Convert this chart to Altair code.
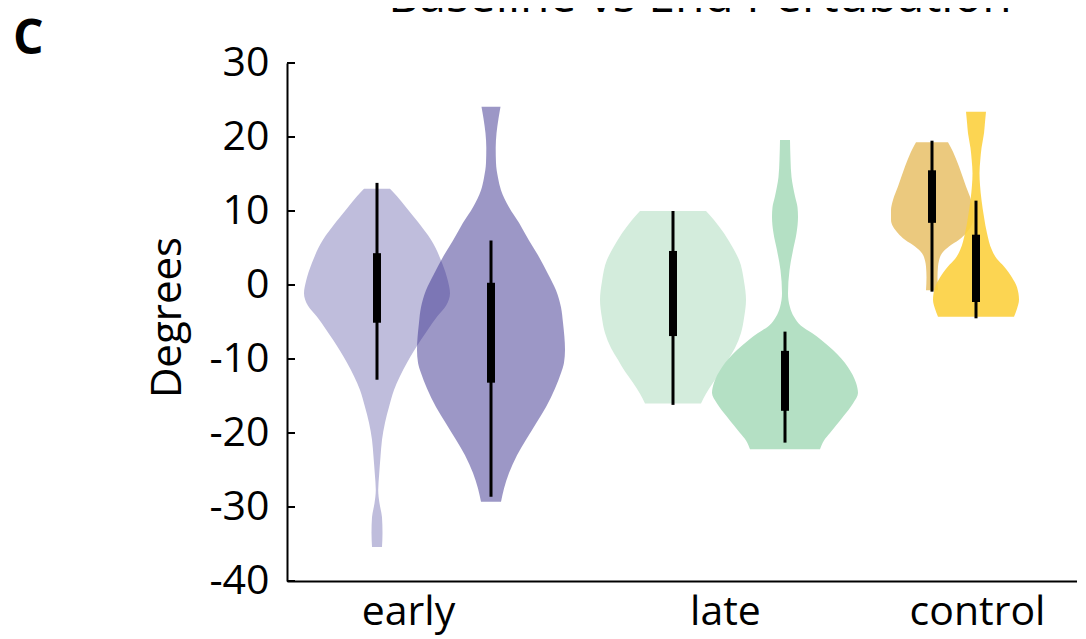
import altair as alt
import pandas as pd

# ---- data ----
groups = ["early", "late", "control"]
group_pos = [1.21, 4.38, 6.90]

violin_names = ["early baseline", "early end", "late baseline", "late end",
                "control baseline", "control end"]
violin_pos = [0.90, 2.04, 3.86, 4.98, 6.45, 6.89]

v1_y = [13.0, 12.0, 10.5, 8.5, 6.1, 3.0, 0.5, -1.1, -2.8, -4.3, -6.0, -7.4, -10.5,
        -14.2, -16.5, -18.6, -20.9, -23.2, -25.5, -27.7, -29.5, -31.4, -33.5, -35.4]
v1_w = [0.13, 0.20, 0.29, 0.41, 0.54, 0.65, 0.71, 0.73, 0.69, 0.60, 0.51, 0.44, 0.30,
        0.17, 0.12, 0.08, 0.05, 0.035, 0.022, 0.012, 0.025, 0.05, 0.055, 0.05]

v2_y = [24.1, 22.5, 20.5, 18.5, 16.5, 14.5, 12.8, 10.5, 8.4, 6.0, 3.8, 1.5, -0.7,
        -3.0, -5.1, -8.8, -10.5, -11.9, -14.0, -16.5, -18.7, -20.9, -23.0, -25.4,
        -27.5, -29.3]
v2_w = [0.095, 0.075, 0.055, 0.047, 0.05, 0.07, 0.10, 0.18, 0.28, 0.38, 0.48, 0.57,
        0.65, 0.70, 0.72, 0.74, 0.73, 0.70, 0.64, 0.55, 0.45, 0.35, 0.26, 0.18,
        0.13, 0.10]

v3_y = [10.0, 8.8, 7.0, 5.0, 3.4, 0.5, -2.0, -4.5, -6.5, -8.5, -10.1, -11.7, -13.2,
        -14.7, -16.0]
v3_w = [0.33, 0.41, 0.51, 0.60, 0.66, 0.71, 0.73, 0.71, 0.68, 0.62, 0.55, 0.48, 0.40,
        0.33, 0.28]

v4_y = [19.6, 17.0, 14.6, 12.0, 10.5, 9.2, 7.0, 4.7, 2.0, -1.1, -3.0, -4.3, -5.5,
        -6.5, -7.4, -8.8, -11.1, -13.2, -14.6, -16.0, -17.8, -19.0, -20.0, -21.0,
        -22.2]
v4_w = [0.05, 0.055, 0.065, 0.10, 0.125, 0.13, 0.115, 0.08, 0.045, 0.03, 0.05, 0.09,
        0.16, 0.27, 0.36, 0.48, 0.63, 0.71, 0.73, 0.68, 0.58, 0.51, 0.45, 0.39, 0.35]

v5_y = [19.3, 18.0, 16.0, 13.3, 11.5, 10.1, 8.8, 7.9, 7.0, 6.1, 5.2, 4.3, 3.3, 2.5,
        1.0, -0.7]
v5_w = [0.16, 0.21, 0.27, 0.34, 0.39, 0.41, 0.41, 0.39, 0.34, 0.27, 0.17, 0.10, 0.07,
        0.06, 0.055, 0.06]

v6_y = [23.4, 22.0, 20.5, 18.5, 16.9, 15.1, 13.5, 11.5, 9.2, 7.0, 4.7, 3.5, 2.5, 1.0,
        -0.3, -2.0, -3.2, -4.3]
v6_w = [0.10, 0.09, 0.08, 0.055, 0.043, 0.035, 0.04, 0.055, 0.08, 0.11, 0.16, 0.21,
        0.28, 0.36, 0.41, 0.43, 0.41, 0.38]

whisk_hi = [13.8, 6.0, 10.0, -6.3, 19.5, 11.4]
whisk_lo = [-12.8, -28.6, -16.2, -21.3, -0.9, -4.5]
box_hi = [4.3, 0.3, 4.6, -8.9, 15.5, 6.8]
box_lo = [-5.1, -13.2, -6.9, -17.0, 8.4, -2.3]

y_ticks = [-40, -30, -20, -10, 0, 10, 20, 30]

title_text = "Baseline vs End Pertubation"
panel_letter = "C"

# ---- styling ----
colors = ["#bfbddc", "#392f8d", "#d3ecdc", "#b4e0c4", "#ebc97e", "#fcd03f"]
opacities = [1.0, 0.5, 1.0, 1.0, 1.0, 0.9]
FONT = "Open Sans"

profiles = [(v1_y, v1_w), (v2_y, v2_w), (v3_y, v3_w), (v4_y, v4_w),
            (v5_y, v5_w), (v6_y, v6_w)]

x_scale = alt.Scale(domain=[0, 7.9], nice=False, zero=False)
y_scale = alt.Scale(domain=[-40, 30], nice=False, zero=False)

label_expr = "'" + groups[-1] + "'"
for p, g in reversed(list(zip(group_pos[:-1], groups[:-1]))):
    label_expr = f"abs(datum.value - {p}) < 0.01 ? '{g}' : " + label_expr

x_axis = alt.Axis(values=group_pos, labelExpr=label_expr, ticks=False, grid=False,
                  domainColor="black", domainWidth=2, labelFontSize=41,
                  labelColor="black", labelFont=FONT, labelPadding=11, title=None,
                  labelFlush=False, labelOverlap=False)
y_axis = alt.Axis(values=y_ticks, ticks=False, grid=False, domainColor="black",
                  domainWidth=2, labelFontSize=41, labelColor="black", labelFont=FONT,
                  labelPadding=18, labelExpr="'' + datum.value",
                  title="Degrees", titleFontSize=42,
                  titleFont=FONT, titleFontWeight="normal", titleColor="black",
                  titleAngle=270, titleAlign="center", titleBaseline="middle",
                  titleX=-120, titleY=254)

# long-form violin outlines
rows = []
for i, (ys, ws) in enumerate(profiles):
    for yv, wv in sorted(zip(ys, ws)):
        rows.append({"violin": i, "y": yv,
                     "left": violin_pos[i] - wv, "right": violin_pos[i] + wv})
vdf = pd.DataFrame(rows)

layers = []
for i in range(len(profiles)):
    layers.append(
        alt.Chart(vdf).transform_filter(alt.datum.violin == i).mark_area(
            orient="horizontal", interpolate="monotone",
            color=colors[i], opacity=opacities[i]
        ).encode(
            y=alt.Y("y:Q", scale=y_scale, axis=y_axis),
            x=alt.X("left:Q", scale=x_scale, axis=x_axis),
            x2="right:Q",
        )
    )

stats = pd.DataFrame({"name": violin_names, "pos": violin_pos,
                      "wlo": whisk_lo, "whi": whisk_hi,
                      "blo": box_lo, "bhi": box_hi})

whiskers = alt.Chart(stats).mark_rule(color="black", strokeWidth=3).encode(
    x=alt.X("pos:Q", scale=x_scale, axis=x_axis),
    y=alt.Y("wlo:Q", scale=y_scale, axis=y_axis), y2="whi:Q")
boxes = alt.Chart(stats).mark_rule(color="black", strokeWidth=8).encode(
    x=alt.X("pos:Q", scale=x_scale, axis=x_axis),
    y=alt.Y("blo:Q", scale=y_scale, axis=y_axis), y2="bhi:Q")

ticks = alt.Chart(pd.DataFrame({"t": y_ticks})).mark_rule(
    color="black", strokeWidth=2).encode(
    y=alt.Y("t:Q", scale=y_scale, axis=y_axis), x=alt.value(0), x2=alt.value(8))

title = alt.Chart(pd.DataFrame({"t": [title_text]})).mark_text(
    fontSize=48, font=FONT, color="black", align="center", baseline="alphabetic"
).encode(text="t:N", x=alt.value(413), y=alt.value(-51))

letter = alt.Chart(pd.DataFrame({"t": [panel_letter]})).mark_text(
    fontSize=48, font=FONT, fontWeight="bold", color="black", align="left",
    baseline="alphabetic"
).encode(text="t:N", x=alt.value(-274), y=alt.value(-9))

chart = alt.layer(*layers, whiskers, boxes, ticks, title, letter).properties(
    width=790, height=518,
    autosize=alt.AutoSizeParams(type="none"),
    padding={"left": 279, "top": 55, "right": 0, "bottom": 58},
).configure_view(stroke=None)

chart.save("out.html", embed_options={"renderer": "svg", "actions": False})
